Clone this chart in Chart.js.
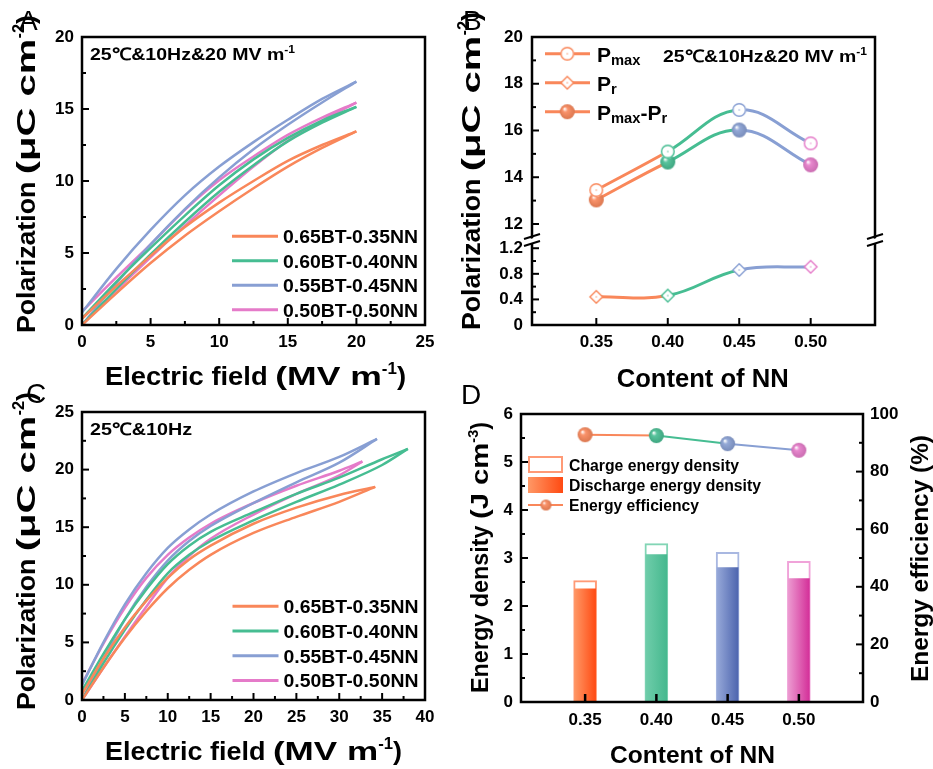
<!DOCTYPE html>
<html>
<head>
<meta charset="utf-8">
<script src="https://cdn.jsdelivr.net/npm/chart.js@4.4.1/dist/chart.umd.min.js"></script>
<style>
  html, body { margin: 0; padding: 0; background: #fff; overflow: hidden; }
  #wrap { position: relative; width: 933px; height: 769px; }
  #wrap canvas { position: absolute; left: 0; top: 0; }
</style>
</head>
<body>
<div id="wrap">
  <canvas id="chartA" width="933" height="769"></canvas>
  <canvas id="chartB" width="933" height="769"></canvas>
  <canvas id="chartC" width="933" height="769"></canvas>
  <canvas id="chartD" width="933" height="769"></canvas>
</div>
<script>
// ---------- data ----------
const samples = ['0.65BT-0.35NN', '0.60BT-0.40NN', '0.55BT-0.45NN', '0.50BT-0.50NN'];
const lineColors = ['#f9875a', '#46bd92', '#889fd3', '#e57bc9'];

// A: unipolar P-E loops at 20 MV/m (charge = rising branch, discharge = falling branch)
const fieldA = [0, 2.5, 5, 7.5, 10, 12.5, 15, 17.5, 20];
const chargeA035 = [0, 2.2, 4.3, 6.2, 7.9, 9.5, 11.0, 12.3, 13.45];
const dischargeA035 = [0.44, 2.7, 4.8, 6.8, 8.5, 10.0, 11.4, 12.5, 13.45];
const chargeA040 = [0, 2.5, 4.9, 7.15, 9.25, 11.1, 12.75, 14.05, 15.15];
const dischargeA040 = [0.46, 3.0, 5.35, 7.6, 9.7, 11.5, 13.0, 14.2, 15.15];
const chargeA045 = [0, 2.9, 5.6, 8.05, 10.25, 12.2, 13.9, 15.45, 16.9];
const dischargeA045 = [0.87, 3.9, 6.6, 9.0, 11.0, 12.7, 14.25, 15.7, 16.9];
const chargeA050 = [0, 2.4, 4.7, 6.9, 9.0, 11.0, 12.8, 14.2, 15.45];
const dischargeA050 = [0.93, 3.3, 5.6, 8.0, 10.05, 11.7, 13.2, 14.4, 15.45];

// C: loops at breakdown field
const fieldC035 = [0, 2.5, 5, 7.5, 10, 12.5, 15, 20, 25, 30, 34.2];
const chargeC035 = [0, 2.8, 5.4, 7.7, 9.7, 11.3, 12.6, 14.5, 15.9, 17.2, 18.5];
const dischargeC035 = [0.5, 3.6, 6.3, 8.6, 10.6, 12.2, 13.4, 15.3, 16.7, 17.8, 18.5];
const fieldC040 = [0, 2.5, 5, 7.5, 10, 12.5, 15, 20, 25, 30, 35, 38];
const chargeC040 = [0, 3.2, 6.1, 8.7, 11.0, 12.6, 13.8, 15.6, 17.2, 18.7, 20.4, 21.8];
const dischargeC040 = [0.8, 4.0, 7.0, 9.6, 11.8, 13.4, 14.6, 16.3, 17.9, 19.3, 20.9, 21.8];
const fieldC045 = [0, 2.5, 5, 7.5, 10, 12.5, 15, 20, 25, 30, 34.4];
const chargeC045 = [0, 3.6, 7.0, 9.8, 12.1, 13.8, 15.1, 17.1, 18.9, 20.6, 22.66];
const dischargeC045 = [1.3, 5.0, 8.3, 11.0, 13.2, 14.8, 16.1, 18.1, 19.7, 21.1, 22.66];
const fieldC050 = [0, 2.5, 5, 7.5, 10, 12.5, 15, 20, 25, 30, 32.7];
const chargeC050 = [0, 2.8, 5.5, 8.1, 10.6, 12.5, 14.0, 16.1, 17.9, 19.5, 20.7];
const dischargeC050 = [1.4, 4.9, 8.0, 10.6, 12.6, 14.1, 15.3, 17.1, 18.6, 19.9, 20.7];

// B and D
const contentNN = [0.35, 0.40, 0.45, 0.50];
const pMax = [13.45, 15.1, 16.88, 15.45];
const pR = [0.44, 0.46, 0.86, 0.91];
const pMaxMinusPr = [13.03, 14.65, 16.02, 14.53];
const chargeDensity = [2.53, 3.30, 3.12, 2.93];
const dischargeDensity = [2.36, 3.07, 2.80, 2.57];
const efficiency = [92.8, 92.5, 89.7, 87.4];

const barLeft = ['#ff9866', '#6fcdaa', '#97a9d9', '#ec9bd1'];
const barRight = ['#ff4a12', '#45b88e', '#4c64ae', '#d32e98'];
const chargeEdge = ['#ff9a76', '#82d5b5', '#a9b8e1', '#f0a3d9'];

// ---------- helpers ----------
const FONT = '"Liberation Sans", Arial, Helvetica, sans-serif';
const tickFont = { family: FONT, size: 17, weight: 'bold' };
const sup = t => ({ t, s: 0.62, dy: -0.42 });
const sub = t => ({ t, s: 0.7, dy: 0.16 });
const wide = (t, sx) => ({ t, sx });

function xy(xs, ys) {
  return xs.map((x, i) => ({ x, y: ys[i] }));
}

function rich(ctx, parts, x, y, o) {
  o = o || {};
  const size = o.size || 17, wt = o.weight || 'bold';
  const items = parts.map(p => typeof p === 'string' ? { t: p } : Object.assign({}, p));
  ctx.save();
  ctx.translate(x, y);
  if (o.rot) ctx.rotate(o.rot);
  let w = 0;
  items.forEach(p => {
    ctx.font = wt + ' ' + (size * (p.s || 1)) + 'px ' + FONT;
    p.w = ctx.measureText(p.t).width * (p.sx || 1);
    w += p.w;
  });
  const k = o.width ? o.width / w : 1;
  if (o.align === 'center') ctx.translate(-w * k / 2, 0);
  ctx.scale(k, 1);
  ctx.fillStyle = o.color || '#000';
  ctx.textAlign = 'left';
  ctx.textBaseline = 'alphabetic';
  let cx = 0;
  items.forEach(p => {
    ctx.font = wt + ' ' + (size * (p.s || 1)) + 'px ' + FONT;
    ctx.save();
    ctx.translate(cx, (p.dy || 0) * size);
    ctx.scale(p.sx || 1, 1);
    ctx.fillText(p.t, 0, 0);
    ctx.restore();
    cx += p.w;
  });
  ctx.restore();
}

function mix(hex, t) {
  // t < 0 darkens, t > 0 lightens
  const n = parseInt(hex.slice(1), 16);
  let r = n >> 16, g = (n >> 8) & 255, b = n & 255;
  const to = t < 0 ? 0 : 255, a = Math.abs(t);
  r = Math.round(r + (to - r) * a); g = Math.round(g + (to - g) * a); b = Math.round(b + (to - b) * a);
  return 'rgb(' + r + ',' + g + ',' + b + ')';
}

function sphere(color, r) {
  const c = document.createElement('canvas');
  c.width = c.height = Math.ceil(2 * r + 2);
  const g = c.getContext('2d'), m = c.width / 2;
  const grd = g.createRadialGradient(m - r * 0.38, m - r * 0.4, r * 0.05, m, m, r);
  grd.addColorStop(0, '#ffffff');
  grd.addColorStop(0.3, mix(color, 0.1));
  grd.addColorStop(1, mix(color, -0.12));
  g.fillStyle = grd;
  g.beginPath(); g.arc(m, m, r, 0, Math.PI * 2); g.fill();
  return c;
}

function ring(color, r) {
  const c = document.createElement('canvas');
  c.width = c.height = Math.ceil(2 * r + 2);
  const g = c.getContext('2d'), m = c.width / 2;
  g.fillStyle = '#fff';
  g.beginPath(); g.arc(m, m, r, 0, Math.PI * 2); g.fill();
  g.strokeStyle = color; g.lineWidth = 1.4;
  g.beginPath(); g.arc(m, m, r - 0.7, 0, Math.PI * 2); g.stroke();
  g.fillStyle = color; g.fillRect(m - 0.6, m - 0.6, 1.2, 1.2);
  return c;
}

function diamond(color, r) {
  const c = document.createElement('canvas');
  c.width = c.height = Math.ceil(2 * r + 2);
  const g = c.getContext('2d'), m = c.width / 2, q = r - 0.7;
  g.beginPath();
  g.moveTo(m, m - q); g.lineTo(m + q, m); g.lineTo(m, m + q); g.lineTo(m - q, m); g.closePath();
  g.fillStyle = '#fff'; g.fill();
  g.strokeStyle = color; g.lineWidth = 1.4; g.stroke();
  g.fillStyle = color; g.fillRect(m - 0.6, m - 0.6, 1.2, 1.2);
  return c;
}

function axis(min, max, step, o) {
  o = o || {};
  const ticks = { stepSize: step, includeBounds: false, autoSkip: false, maxRotation: 0,
    font: tickFont, color: '#000', padding: o.pad || 8 };
  if (o.fmt) ticks.callback = o.fmt;
  return Object.assign({
    type: 'linear', min, max, ticks,
    offset: false,
    grid: { display: false, drawTicks: false },
    border: { display: false },
    afterFit: s => { if (s.isHorizontal()) s.height = o.size || 30; else s.width = o.size || 40; }
  }, o.extra || {});
}

function baseOptions(pad, scales) {
  return {
    responsive: false, animation: false, events: [],
    layout: { padding: pad },
    plugins: { legend: { display: false }, tooltip: { enabled: false } },
    scales
  };
}

// inward ticks (major from the scale, minor half way) and the closed frame
function drawAxes(chart, specs) {
  const ctx = chart.ctx, a = chart.chartArea;
  ctx.save();
  ctx.strokeStyle = '#000';
  specs.forEach(sp => {
    const sc = chart.scales[sp.id];
    const vals = sc.ticks.map(t => t.value);
    const marks = vals.map(v => [v, sp.len || 7]);
    if (sp.minor) {
      for (let i = 0; i < vals.length - 1; i++) marks.push([(vals[i] + vals[i + 1]) / 2, 4]);
    }
    ctx.lineWidth = sp.width || 2;
    marks.forEach(([v, len]) => {
      const p = sc.getPixelForValue(v);
      ctx.beginPath();
      if (sp.side === 'bottom') { ctx.moveTo(p, a.bottom); ctx.lineTo(p, a.bottom - len); }
      else if (sp.side === 'left') { ctx.moveTo(a.left, p); ctx.lineTo(a.left + len, p); }
      else { ctx.moveTo(a.right, p); ctx.lineTo(a.right - len, p); }
      ctx.stroke();
    });
  });
  ctx.lineWidth = 2.5;
  ctx.strokeRect(a.left, a.top, a.right - a.left, a.bottom - a.top);
  ctx.restore();
}

function panelLabel(ctx, t, x, y) {
  rich(ctx, [t], x, y, { size: 28, weight: 'normal' });
}

function loopLegend(ctx, x0, yb, gap) {
  ctx.save();
  ctx.lineWidth = 3;
  samples.forEach((s, i) => {
    const y = yb + i * gap;
    ctx.strokeStyle = lineColors[i];
    ctx.beginPath(); ctx.moveTo(x0, y - 7); ctx.lineTo(x0 + 46, y - 7); ctx.stroke();
    rich(ctx, [s], x0 + 51, y, { size: 19, width: 135 });
  });
  ctx.restore();
}

function loop(label, fields, charge, discharge, color) {
  const base = { borderColor: color, borderWidth: 2.5, pointRadius: 0,
    cubicInterpolationMode: 'monotone', fill: false };
  return [
    Object.assign({ label: label + ' charge', data: xy(fields, charge) }, base),
    Object.assign({ label: label + ' discharge', data: xy(fields, discharge) }, base)
  ];
}

const segColor = c => lineColors[c.p0DataIndex];

// ---------- A ----------
new Chart(document.getElementById('chartA'), {
  type: 'line',
  data: { datasets: [].concat(
    loop(samples[0], fieldA, chargeA035, dischargeA035, lineColors[0]),
    loop(samples[1], fieldA, chargeA040, dischargeA040, lineColors[1]),
    loop(samples[2], fieldA, chargeA045, dischargeA045, lineColors[2]),
    loop(samples[3], fieldA, chargeA050, dischargeA050, lineColors[3])
  ) },
  options: baseOptions({ left: 42, right: 508, top: 37, bottom: 414 }, {
    x: axis(0, 25, 5, { pad: 7 }),
    y: axis(0, 20, 5, { pad: 8 })
  }),
  plugins: [{
    id: 'decorA',
    afterDraw(chart) {
      const ctx = chart.ctx;
      drawAxes(chart, [{ id: 'x', side: 'bottom', minor: true }, { id: 'y', side: 'left', minor: true }]);
      rich(ctx, ['25℃&10Hz&20 MV m', sup('-1')], 90, 60, { size: 17, width: 205 });
      loopLegend(ctx, 232, 243.3, 24.5);
      rich(ctx, ['Electric field ', wide('(MV m', 1.3), sup('-1'), ')'], 105, 385, { size: 25.7, width: 301 });
      rich(ctx, ['Polarization ', wide('(μC cm', 1.5), sup('-2'), ')'], 35, 333,
        { size: 26, width: 318, rot: -Math.PI / 2 });
      panelLabel(ctx, 'A', 19, 30);
    }
  }]
});

// ---------- B ----------
const ringsB = lineColors.map(c => ring(c, 7));
const diamondsB = lineColors.map(c => diamond(c, 7));
const spheresB = lineColors.map(c => sphere(c, 7.5));

new Chart(document.getElementById('chartB'), {
  type: 'line',
  data: { datasets: [
    { label: 'Pmax', data: xy(contentNN, pMax), yAxisID: 'yUp', tension: 0.4, borderWidth: 3,
      borderColor: lineColors[0], segment: { borderColor: segColor }, pointStyle: ringsB, pointRadius: 7 },
    { label: 'Pmax-Pr', data: xy(contentNN, pMaxMinusPr), yAxisID: 'yUp', tension: 0.4, borderWidth: 3,
      borderColor: lineColors[0], segment: { borderColor: segColor }, pointStyle: spheresB, pointRadius: 7 },
    { label: 'Pr', data: xy(contentNN, pR), yAxisID: 'yLow', tension: 0.4, borderWidth: 3,
      borderColor: lineColors[0], segment: { borderColor: segColor }, pointStyle: diamondsB, pointRadius: 7 }
  ] },
  options: baseOptions({ left: 492, right: 58, top: 37, bottom: 414 }, {
    x: axis(0.305, 0.545, 0.05, { pad: 7, fmt: v => v.toFixed(2) }),
    yLow: axis(0, 1.36, 0.4, { pad: 9, extra: { position: 'left', stack: 'p', stackWeight: 87 } }),
    yUp: axis(11.4, 20, 2, { pad: 9, extra: { position: 'left', stack: 'p', stackWeight: 201 } })
  }),
  plugins: [{
    id: 'decorB',
    afterDraw(chart) {
      const ctx = chart.ctx, a = chart.chartArea;
      drawAxes(chart, [{ id: 'x', side: 'bottom' }, { id: 'yLow', side: 'left', minor: true },
        { id: 'yUp', side: 'left', minor: true }]);
      const yb = chart.scales.yUp.bottom + 2;
      [a.left, a.right].forEach(x => {
        ctx.save();
        ctx.fillStyle = '#fff';
        ctx.beginPath();
        ctx.moveTo(x - 8, yb + 1); ctx.lineTo(x + 8, yb - 4); ctx.lineTo(x + 8, yb + 1); ctx.lineTo(x - 8, yb + 6);
        ctx.closePath(); ctx.fill();
        ctx.strokeStyle = '#000'; ctx.lineWidth = 2;
        ctx.beginPath();
        ctx.moveTo(x - 8, yb - 1); ctx.lineTo(x + 8, yb - 6);
        ctx.moveTo(x - 8, yb + 6); ctx.lineTo(x + 8, yb + 1);
        ctx.stroke();
        ctx.restore();
      });
      rich(ctx, ['25℃&10Hz&20 MV m', sup('-1')], 663, 61.7, { size: 17, width: 204 });
      const leg = [
        { parts: ['P', sub('max')], img: ringsB[0] },
        { parts: ['P', sub('r')], img: diamondsB[0] },
        { parts: ['P', sub('max'), '-P', sub('r')], img: spheresB[0] }
      ];
      leg.forEach((e, i) => {
        const y = 61.7 + i * 29;
        ctx.save();
        ctx.strokeStyle = lineColors[0]; ctx.lineWidth = 3;
        ctx.beginPath(); ctx.moveTo(545, y - 8); ctx.lineTo(590, y - 8); ctx.stroke();
        ctx.drawImage(e.img, 567.3 - e.img.width / 2, y - 8 - e.img.height / 2);
        ctx.restore();
        rich(ctx, e.parts, 597, y, { size: 21 });
      });
      rich(ctx, ['Content of NN'], 616.7, 386.7, { size: 25.5, width: 172 });
      rich(ctx, ['Polarization ', wide('(μC cm', 1.5), sup('-2'), ')'], 480, 330,
        { size: 26, width: 318, rot: -Math.PI / 2 });
      panelLabel(ctx, 'B', 463, 30);
    }
  }]
});

// ---------- C ----------
new Chart(document.getElementById('chartC'), {
  type: 'line',
  data: { datasets: [].concat(
    loop(samples[0], fieldC035, chargeC035, dischargeC035, lineColors[0]),
    loop(samples[1], fieldC040, chargeC040, dischargeC040, lineColors[1]),
    loop(samples[2], fieldC045, chargeC045, dischargeC045, lineColors[2]),
    loop(samples[3], fieldC050, chargeC050, dischargeC050, lineColors[3])
  ) },
  options: baseOptions({ left: 42, right: 508, top: 412, bottom: 39 }, {
    x: axis(0, 40, 5, { pad: 7 }),
    y: axis(0, 25, 5, { pad: 8 })
  }),
  plugins: [{
    id: 'decorC',
    afterDraw(chart) {
      const ctx = chart.ctx;
      drawAxes(chart, [{ id: 'x', side: 'bottom', minor: true }, { id: 'y', side: 'left', minor: true }]);
      rich(ctx, ['25℃&10Hz'], 90, 435, { size: 17, width: 102 });
      loopLegend(ctx, 232.5, 613.3, 24.7);
      rich(ctx, ['Electric field ', wide('(MV m', 1.3), sup('-1'), ')'], 105, 760, { size: 25.7, width: 297 });
      rich(ctx, ['Polarization ', wide('(μC cm', 1.5), sup('-2'), ')'], 35, 710,
        { size: 26, width: 318, rot: -Math.PI / 2 });
      panelLabel(ctx, 'C', 26, 403);
    }
  }]
});

// ---------- D ----------
const spheresD = lineColors.map(c => sphere(c, 7.5));

function barFill(c) {
  const chart = c.chart, i = c.dataIndex;
  if (!chart.chartArea || i === undefined) return barRight[0];
  const x = chart.scales.x.getPixelForValue(contentNN[i]);
  const g = chart.ctx.createLinearGradient(x - 11, 0, x + 11, 0);
  g.addColorStop(0, barLeft[i]);
  g.addColorStop(1, barRight[i]);
  return g;
}

new Chart(document.getElementById('chartD'), {
  type: 'bar',
  data: { datasets: [
    { type: 'line', label: 'Energy efficiency', data: xy(contentNN, efficiency), yAxisID: 'y2',
      borderWidth: 2, tension: 0, borderColor: lineColors[0], segment: { borderColor: segColor },
      pointStyle: spheresD, pointRadius: 7, order: 0 },
    { label: 'Discharge energy density', data: xy(contentNN, dischargeDensity), yAxisID: 'y',
      backgroundColor: barFill, borderWidth: 0, barThickness: 21, grouped: false, order: 1 },
    { label: 'Charge energy density', data: xy(contentNN, chargeDensity), yAxisID: 'y',
      backgroundColor: '#fff', borderColor: chargeEdge, borderWidth: 2, borderSkipped: false,
      barThickness: 23, grouped: false, order: 2 }
  ] },
  options: baseOptions({ left: 481, right: 30, top: 414, bottom: 37 }, {
    x: axis(0.305, 0.545, 0.05, { pad: 8, fmt: v => v.toFixed(2) }),
    y: axis(0, 6, 1, { pad: 8, extra: { position: 'left' } }),
    y2: axis(0, 100, 20, { pad: 7, extra: { position: 'right' } })
  }),
  plugins: [{
    id: 'decorD',
    afterDraw(chart) {
      const ctx = chart.ctx;
      drawAxes(chart, [{ id: 'x', side: 'bottom', len: 8, width: 2.5 }, { id: 'y', side: 'left', minor: true },
        { id: 'y2', side: 'right', minor: true }]);
      // legend
      ctx.save();
      ctx.strokeStyle = chargeEdge[0]; ctx.lineWidth = 2;
      ctx.strokeRect(529, 457, 33, 15);
      const g = ctx.createLinearGradient(528, 0, 563, 0);
      g.addColorStop(0, barLeft[0]); g.addColorStop(1, barRight[0]);
      ctx.fillStyle = g; ctx.fillRect(528, 477, 35, 16);
      ctx.strokeStyle = lineColors[0]; ctx.lineWidth = 2;
      ctx.beginPath(); ctx.moveTo(528, 505); ctx.lineTo(563, 505); ctx.stroke();
      const s = sphere(lineColors[0], 5.5);
      ctx.drawImage(s, 546 - s.width / 2, 505 - s.height / 2);
      ctx.restore();
      rich(ctx, ['Charge energy density'], 569, 471, { size: 16, width: 170 });
      rich(ctx, ['Discharge energy density'], 569, 491, { size: 16, width: 192 });
      rich(ctx, ['Energy efficiency'], 569, 511, { size: 16, width: 130 });
      rich(ctx, ['Content of NN'], 610, 763, { size: 24.5, width: 165 });
      rich(ctx, ['Energy density ', wide('(J cm', 1.25), sup('-3'), ')'], 488, 693,
        { size: 23, width: 271, rot: -Math.PI / 2 });
      rich(ctx, ['Energy efficiency (%)'], 928, 682, { size: 23, width: 247, rot: -Math.PI / 2 });
      panelLabel(ctx, 'D', 461, 404);
    }
  }]
});
</script>
</body>
</html>
